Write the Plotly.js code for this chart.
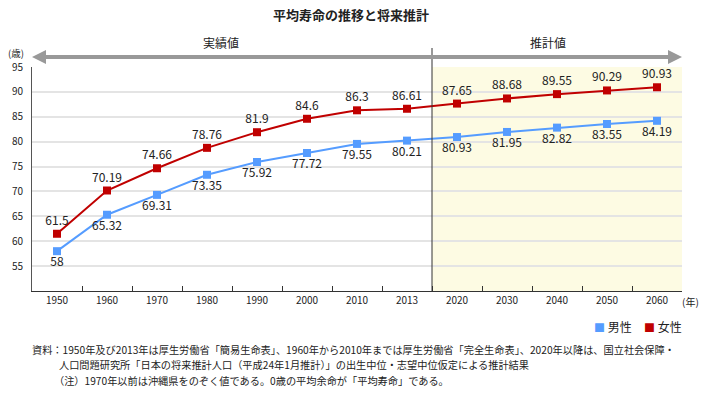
<!DOCTYPE html>
<html>
<head>
<meta charset="utf-8">
<script src="https://cdn.plot.ly/plotly-3.0.1.min.js"></script>
<style>html,body{margin:0;padding:0;background:#fff;}#chart{width:702px;height:395px;}</style>
</head>
<body>
<div id="chart"></div>
<script>
const years = ['1950','1960','1970','1980','1990','2000','2010','2013','2020','2030','2040','2050','2060'];
const male = [58, 65.32, 69.31, 73.35, 75.92, 77.72, 79.55, 80.21, 80.93, 81.95, 82.82, 83.55, 84.19];
const female = [61.5, 70.19, 74.66, 78.76, 81.9, 84.6, 86.3, 86.61, 87.65, 88.68, 89.55, 90.29, 90.93];
const maleLabels = ['58','65.32','69.31','73.35','75.92','77.72','79.55','80.21','80.93','81.95','82.82','83.55','84.19'];
const femaleLabels = ['61.5','70.19','74.66','78.76','81.9','84.6','86.3','86.61','87.65','88.68','89.55','90.29','90.93'];
const yTicks = [55, 60, 65, 70, 75, 80, 85, 90, 95];
const seriesNames = ['男性', '女性'];

const FONT = '"Noto Sans CJK JP", "Noto Sans", sans-serif';
const BLUE = '#559cff';
const RED = '#c00000';

// pixel helpers (plot area: x 32..682, y 67..291)
const px = v => (v - 32) / 650;
const py = v => (291 - v) / 224;

const traces = [
  {x: years, y: male, type: 'scatter', mode: 'lines+markers+text', text: maleLabels, name: seriesNames[0],
   textposition: 'bottom center', textfont: {family: FONT, size: 12, color: '#222'},
   line: {color: BLUE, width: 2}, marker: {symbol: 'square', size: 8, color: BLUE},
   showlegend: false, hoverinfo: 'skip', cliponaxis: false},
  {x: years, y: female, type: 'scatter', mode: 'lines+markers+text', text: femaleLabels, name: seriesNames[1],
   textposition: 'top center', textfont: {family: FONT, size: 12, color: '#222'},
   line: {color: RED, width: 2}, marker: {symbol: 'square', size: 8, color: RED},
   showlegend: false, hoverinfo: 'skip', cliponaxis: false}
];

const legendAnn = (name, color, xpix) => ({
  text: `<span style="color:${color};font-size:11px">■</span> ${name}`,
  xref: 'paper', yref: 'paper', x: px(xpix), y: py(326), showarrow: false,
  xanchor: 'left', yanchor: 'middle', font: {family: FONT, size: 12, color: '#222'}
});

const layout = {
  width: 702, height: 395,
  margin: {l: 32, r: 20, t: 67, b: 104, autoexpand: false},
  paper_bgcolor: '#fff', plot_bgcolor: 'rgba(0,0,0,0)',
  font: {family: FONT, color: '#222', size: 11},
  showlegend: false,
  title: {text: '<b>平均寿命の推移と将来推計</b>', x: 0.5, xref: 'container', xanchor: 'center',
          y: 1 - 15/395, yref: 'container', yanchor: 'middle',
          font: {family: FONT, size: 13, color: '#222'}},
  xaxis: {type: 'category', range: [-0.5, 12.5], showline: true, linecolor: '#333', linewidth: 1,
          ticks: 'inside', tickson: 'boundaries', ticklen: 5, tickcolor: '#333', tickwidth: 1,
          showgrid: false, zeroline: false, tickfont: {family: FONT, size: 10, color: '#222'},
          fixedrange: true},
  yaxis: {range: [50, 95], tickvals: yTicks, showline: true, linecolor: '#555', linewidth: 1,
          ticks: '', showgrid: true, gridcolor: '#e4e4e4', gridwidth: 2, zeroline: false,
          ticklabelstandoff: 6, tickfont: {family: FONT, size: 10, color: '#222'}, fixedrange: true},
  shapes: [
    {type: 'rect', xref: 'x', yref: 'paper', x0: 7.5, x1: 12.5, y0: 0, y1: 1,
     fillcolor: '#fdfbe3', line: {width: 0}, layer: 'below'},
    {type: 'line', xref: 'x', yref: 'paper', x0: 7.5, x1: 7.5, y0: 0, y1: py(48),
     line: {color: '#333', width: 1}},
    {type: 'line', xref: 'paper', yref: 'paper', x0: px(44), x1: px(670), y0: py(57), y1: py(57),
     line: {color: '#999', width: 4}},
    {type: 'path', xref: 'paper', yref: 'paper',
     path: `M ${px(32)} ${py(57)} L ${px(46)} ${py(50)} L ${px(46)} ${py(64)} Z`,
     fillcolor: '#999', line: {width: 0}},
    {type: 'path', xref: 'paper', yref: 'paper',
     path: `M ${px(682)} ${py(57)} L ${px(668)} ${py(50)} L ${px(668)} ${py(64)} Z`,
     fillcolor: '#999', line: {width: 0}}
  ],
  annotations: [
    {text: '実績値', xref: 'paper', yref: 'paper', x: px(221), y: py(43), showarrow: false,
     xanchor: 'center', yanchor: 'middle', font: {family: FONT, size: 12, color: '#222'}},
    {text: '推計値', xref: 'paper', yref: 'paper', x: px(548), y: py(43), showarrow: false,
     xanchor: 'center', yanchor: 'middle', font: {family: FONT, size: 12, color: '#222'}},
    {text: '(歳)', xref: 'paper', yref: 'paper', x: px(16), y: py(53), showarrow: false,
     xanchor: 'center', yanchor: 'middle', font: {family: FONT, size: 9.5, color: '#222'}},
    {text: '(年)', xref: 'paper', yref: 'paper', x: px(690), y: py(301), showarrow: false,
     xanchor: 'center', yanchor: 'middle', font: {family: FONT, size: 10, color: '#222'}},
    legendAnn(seriesNames[0], BLUE, 592),
    legendAnn(seriesNames[1], RED, 642),
    {text: '資料：1950年及び2013年は厚生労働省「簡易生命表」、1960年から2010年までは厚生労働省「完全生命表」、2020年以降は、国立社会保障・',
     xref: 'paper', yref: 'paper', x: px(30), y: py(349), showarrow: false,
     xanchor: 'left', yanchor: 'middle', font: {family: FONT, size: 10.2, color: '#222'}},
    {text: '人口問題研究所「日本の将来推計人口（平成24年1月推計）」の出生中位・志望中位仮定による推計結果',
     xref: 'paper', yref: 'paper', x: px(57), y: py(364), showarrow: false,
     xanchor: 'left', yanchor: 'middle', font: {family: FONT, size: 10.2, color: '#222'}},
    {text: '（注）1970年以前は沖縄県をのぞく値である。0歳の平均余命が「平均寿命」である。',
     xref: 'paper', yref: 'paper', x: px(52), y: py(380), showarrow: false,
     xanchor: 'left', yanchor: 'middle', font: {family: FONT, size: 10.2, color: '#222'}}
  ]
};

Plotly.newPlot('chart', traces, layout, {staticPlot: true, displayModeBar: false});
</script>
</body>
</html>
